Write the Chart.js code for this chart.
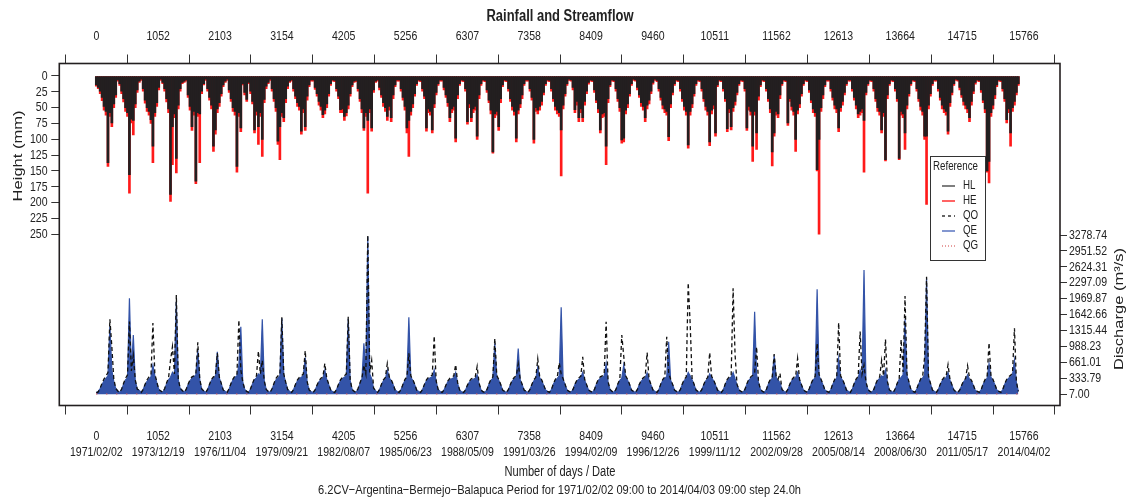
<!DOCTYPE html>
<html>
<head>
<meta charset="utf-8">
<script src="https://cdn.jsdelivr.net/npm/chart.js"></script>
<style>
html, body { margin: 0; padding: 0; background: #fff; }
canvas { display: block; }
</style>
</head>
<body>
<canvas id="chart" width="1127" height="502"></canvas>
<script>
// day of each hydrological year start (from 1971/02/02)
var yearStart = [0,365,731,1096,1461,1826,2192,2557,2922,3287,3653,4018,4383,4748,5114,5479,5844,6209,6575,6940,7305,7670,8036,8401,8766,9131,9497,9862,10227,10592,10958,11323,11688,12053,12419,12784,13149,13514,13880,14245,14610,14975,15341];
// sample offsets within a year (days)
var sampleOffset = [0,33,66,99,132,165,198,231,264,297,330];

// rainfall, mm (HL observed, HE estimated)
var rainHL = [
  [14,18,24,34,48,56,137,58,74,44,30],
  [6,12,24,36,50,58,156,68,70,44,22],
  [8,5,20,38,50,56,69,111,58,42,18],
  [5,10,20,36,52,187,80,60,130,46,20],
  [10,8,6,30,48,80,56,166,58,60,24],
  [12,5,20,34,46,111,85,52,42,28,14],
  [8,5,22,36,50,56,143,58,82,12,26],
  [37,10,24,40,85,56,80,58,100,37,16],
  [10,5,20,36,50,103,80,58,66,36,16],
  [8,6,20,32,42,48,87,52,80,32,14],
  [6,6,18,28,40,48,61,54,44,28,12],
  [6,7,20,32,53,52,64,58,46,28,14],
  [8,7,20,36,52,82,58,70,52,82,22],
  [8,6,18,30,42,50,64,48,66,30,14],
  [6,6,20,34,48,82,70,56,44,28,12],
  [6,7,20,32,82,52,56,85,44,26,12],
  [6,6,18,30,42,66,52,48,98,30,12],
  [6,7,20,72,44,66,52,48,95,30,12],
  [6,7,22,38,54,120,60,56,80,36,14],
  [6,7,20,36,48,56,98,54,44,30,12],
  [6,6,20,34,100,50,54,48,40,26,12],
  [6,7,20,36,48,54,58,85,46,28,12],
  [5,6,18,53,40,66,52,66,40,24,10],
  [6,7,22,38,52,85,60,58,111,36,14],
  [6,7,20,36,50,101,98,54,44,28,12],
  [5,6,18,30,42,48,66,46,38,24,10],
  [5,7,20,34,46,52,56,96,44,26,12],
  [6,7,20,36,48,56,109,56,44,28,12],
  [6,7,20,36,48,56,104,54,46,90,14],
  [6,7,20,36,83,52,80,50,40,26,12],
  [6,7,20,82,48,56,111,56,90,32,14],
  [6,7,20,36,52,120,90,56,60,30,12],
  [6,7,74,36,48,56,100,54,44,28,12],
  [6,7,22,38,52,58,148,100,50,30,14],
  [6,6,20,34,46,52,82,50,40,26,12],
  [6,6,20,34,46,60,56,52,70,26,12],
  [6,7,20,36,50,56,85,58,132,30,12],
  [6,7,20,36,130,56,60,90,46,28,12],
  [6,7,20,36,48,56,95,95,46,28,12],
  [6,6,20,34,46,52,56,87,42,26,12],
  [5,6,18,30,40,46,52,66,40,24,10],
  [6,7,22,38,52,150,135,58,46,30,14],
  [6,7,20,36,69,52,90,50,40,26,12]
];
var rainHE = [
  [16,20,28,39,54,62,143,64,80,50,34],
  [8,15,28,41,56,64,185,74,93,50,26],
  [10,7,24,43,56,62,75,137,64,48,22],
  [7,12,24,41,58,198,140,66,153,52,24],
  [12,10,8,34,54,86,62,170,64,137,28],
  [14,7,24,38,52,119,92,58,48,32,17],
  [10,7,26,40,56,62,152,64,88,14,30],
  [40,12,28,44,90,62,108,64,127,42,20],
  [12,7,24,40,56,108,132,64,72,42,20],
  [10,8,24,36,48,54,92,58,86,38,17],
  [8,8,21,32,46,54,66,60,50,32,15],
  [8,9,24,36,58,58,70,63,52,32,17],
  [10,9,24,40,58,86,64,185,58,87,26],
  [10,8,22,34,48,56,70,54,72,36,17],
  [8,8,24,38,54,90,127,62,50,32,15],
  [8,9,24,36,87,58,62,90,50,30,15],
  [8,8,22,34,48,72,58,54,104,36,15],
  [8,9,24,76,50,72,58,54,100,36,15],
  [8,9,26,42,60,122,66,62,86,42,17],
  [8,9,24,40,54,62,104,60,50,36,15],
  [8,8,24,38,106,56,60,54,46,30,15],
  [8,9,24,40,54,60,64,158,52,32,15],
  [7,8,22,58,46,72,58,72,46,28,13],
  [8,9,26,42,58,90,66,64,140,42,17],
  [8,9,24,40,56,106,104,60,50,32,15],
  [7,8,22,34,48,54,72,52,44,28,13],
  [7,9,24,38,52,58,62,102,50,30,15],
  [8,9,24,40,54,62,114,62,50,32,15],
  [8,9,24,40,54,62,110,60,52,95,17],
  [8,9,24,40,88,58,85,56,46,30,15],
  [8,9,24,86,54,62,135,62,116,38,17],
  [8,9,24,40,58,142,95,62,66,36,15],
  [8,9,78,40,54,62,119,60,50,32,15],
  [8,9,26,42,58,64,150,250,56,36,17],
  [8,8,24,38,52,58,88,56,46,30,15],
  [8,8,24,38,52,66,62,58,152,30,15],
  [8,9,24,40,56,62,90,64,134,36,15],
  [8,9,24,40,132,62,66,116,52,32,15],
  [8,9,24,40,54,62,100,203,52,32,15],
  [8,8,24,38,52,58,62,92,48,30,15],
  [7,8,22,34,46,52,58,72,46,28,13],
  [8,9,26,42,58,152,169,64,52,36,17],
  [8,9,24,40,74,58,111,56,46,30,15]
];

// discharge, m3/s (QO observed, QE estimated, QG)
var flowQO = [
  [30,50,130,230,320,380,450,1544,980,320,120],
  [70,40,110,230,330,400,1500,480,800,300,110],
  [80,40,100,210,300,360,400,1468,420,260,100],
  [70,40,120,240,340,700,980,420,2044,320,120],
  [80,40,100,210,300,360,380,420,1070,320,110],
  [70,40,100,210,310,360,380,850,360,230,90],
  [60,40,120,230,320,380,400,1530,500,260,100],
  [60,40,120,230,330,380,890,420,700,280,100],
  [60,40,120,230,330,380,400,1585,420,250,100],
  [60,40,100,210,300,350,380,420,898,260,90],
  [50,40,90,190,280,330,360,637,330,210,90],
  [50,40,100,210,300,350,380,420,1596,300,100],
  [60,40,120,240,340,600,420,3278,450,700,130],
  [70,40,100,210,300,350,635,360,300,210,90],
  [60,40,100,210,310,360,843,380,310,210,90],
  [60,40,100,210,300,350,370,400,1200,280,100],
  [60,40,90,190,280,330,350,380,610,240,90],
  [50,40,90,190,270,320,340,360,575,230,90],
  [50,40,100,220,310,360,1152,390,310,210,90],
  [60,40,100,210,300,350,380,630,320,210,90],
  [60,40,100,210,300,350,730,360,300,200,90],
  [60,40,100,220,310,360,650,420,320,210,90],
  [60,40,100,210,290,340,370,770,310,200,90],
  [60,40,100,220,310,360,380,420,1494,260,100],
  [60,40,100,220,310,1221,790,380,310,210,90],
  [60,40,100,210,290,340,370,860,310,200,90],
  [60,40,100,220,310,360,1186,440,310,210,90],
  [60,40,100,220,310,360,2298,1460,330,210,90],
  [60,40,100,210,300,350,860,370,300,200,90],
  [60,40,100,220,310,360,380,2181,830,210,90],
  [60,40,100,220,310,360,390,440,980,260,100],
  [60,40,100,220,310,360,830,380,310,433,100],
  [60,40,100,210,300,350,370,739,310,200,90],
  [60,40,120,230,320,370,1050,410,310,210,90],
  [60,40,100,220,310,360,1474,380,310,210,90],
  [60,40,120,230,320,370,1290,420,600,260,100],
  [60,40,100,220,310,360,700,380,1131,260,90],
  [60,40,120,230,330,1131,460,2024,420,260,100],
  [60,40,120,230,320,370,770,2420,380,230,90],
  [60,40,100,210,300,350,370,610,310,200,90],
  [50,40,90,190,280,330,588,340,290,190,80],
  [60,40,100,220,310,360,1062,380,310,210,90],
  [60,40,100,220,310,360,390,440,1357,260,60]
];
var flowQE = [
  [40,60,120,200,280,330,380,1400,500,260,120],
  [70,40,100,210,300,340,1976,480,1221,280,110],
  [80,40,100,200,270,320,360,600,380,240,100],
  [70,40,110,220,300,350,450,380,1907,300,120],
  [80,40,100,200,280,330,360,400,912,300,110],
  [70,40,100,200,290,340,360,877,340,220,90],
  [60,40,110,220,300,350,380,600,1392,260,100],
  [60,40,110,220,300,340,420,380,1544,280,100],
  [60,40,110,220,300,340,380,1565,400,240,100],
  [60,40,100,200,280,320,350,380,755,240,90],
  [50,40,90,180,260,300,330,500,300,200,90],
  [50,40,100,200,280,320,350,380,1550,280,100],
  [60,40,110,220,320,1050,420,3244,420,320,120],
  [70,40,100,200,280,320,500,340,280,200,90],
  [60,40,100,200,290,330,1585,350,290,200,90],
  [60,40,100,200,280,320,340,360,500,260,100],
  [60,40,90,180,260,300,320,340,450,220,90],
  [50,40,90,180,250,290,310,330,400,210,90],
  [50,40,100,210,290,330,1050,360,290,200,90],
  [60,40,100,200,280,320,350,945,300,200,90],
  [60,40,100,200,280,320,560,340,280,190,90],
  [60,40,100,210,290,330,380,1790,300,200,90],
  [60,40,100,200,270,310,340,450,290,190,90],
  [60,40,100,210,290,330,350,380,630,240,100],
  [60,40,100,210,290,330,600,350,290,200,90],
  [60,40,100,200,270,310,340,440,290,190,90],
  [60,40,100,210,290,330,360,1083,290,200,90],
  [60,40,100,210,290,330,450,380,300,200,90],
  [60,40,100,200,280,320,420,340,280,190,90],
  [60,40,100,210,290,330,350,450,320,200,90],
  [60,40,100,210,290,330,360,1700,400,240,100],
  [60,40,100,210,290,330,800,350,290,240,100],
  [60,40,100,200,280,320,340,450,290,190,90],
  [60,40,110,220,300,340,2161,380,290,200,90],
  [60,40,100,210,290,330,735,350,290,200,90],
  [60,40,110,220,300,340,500,380,2560,240,100],
  [60,40,100,210,290,330,380,350,500,240,90],
  [60,40,110,220,310,350,400,1544,380,240,100],
  [60,40,110,220,300,340,400,2385,350,220,90],
  [60,40,100,200,280,320,340,450,290,190,90],
  [50,40,90,180,260,300,400,310,270,180,80],
  [60,40,100,210,290,330,630,350,290,200,90],
  [60,40,100,210,290,330,360,400,700,240,60]
];
var flowQG = [6,5,6,5,6,6,5,6,5,6,5,6,6,5,6,5,6,5,6,6,5,6,5,6,5,6,6,5,6,5,6,5,6,6,5,6,5,6,5,6,6,5,6];

// axis ticks
var dayTicks = [0,1052,2103,3154,4205,5256,6307,7358,8409,9460,10511,11562,12613,13664,14715,15766];
var dateTicks = ['1971/02/02','1973/12/19','1976/11/04','1979/09/21','1982/08/07','1985/06/23','1988/05/09','1991/03/26','1994/02/09','1996/12/26','1999/11/12','2002/09/28','2005/08/14','2008/06/30','2011/05/17','2014/04/02'];
var rainTicks = [0,25,50,75,100,125,150,175,200,225,250];
var flowTicks = [7.00,333.79,661.01,988.23,1315.44,1642.66,1969.87,2297.09,2624.31,2951.52,3278.74];

var F = '"Liberation Sans", Arial, sans-serif';
var SX = 0.78;   // narrow text
var INK = '#231f20';

function series(rows) {
  var out = [];
  for (var k = 0; k < rows.length; k++) {
    for (var j = 0; j < rows[k].length; j++) {
      out.push({ x: yearStart[k] + sampleOffset[j], y: rows[k][j] });
    }
  }
  return out;
}

var qgPoints = flowQG.map(function (v, k) { return { x: yearStart[k], y: v }; });
qgPoints.push({ x: 15766, y: 6 });

function txt(ctx, s, x, y, align, sx) {
  ctx.save();
  ctx.translate(x, y);
  ctx.scale(sx, 1);
  ctx.textAlign = align;
  ctx.fillText(s, 0, 0);
  ctx.restore();
}
function fitText(ctx, s, x, y, w) {
  txt(ctx, s, x, y, 'center', w / ctx.measureText(s).width);
}
// vertical text: narrow across the line, natural length along it
function vText(ctx, s, x, y) {
  ctx.save();
  ctx.translate(x, y);
  ctx.rotate(-Math.PI / 2);
  ctx.scale(1, SX);
  ctx.textAlign = 'center';
  ctx.fillText(s, 0, 0);
  ctx.restore();
}

var decor = {
  id: 'decor',
  afterDraw: function (chart) {
    var ctx = chart.ctx, a = chart.chartArea, sc = chart.scales;
    ctx.save();
    ctx.strokeStyle = INK;
    ctx.lineWidth = 1.6;
    ctx.strokeRect(a.left, a.top, a.right - a.left, a.bottom - a.top);

    ctx.fillStyle = '#222';
    ctx.textBaseline = 'middle';

    // tick labels
    ctx.font = '13.5px ' + F;
    dayTicks.forEach(function (v, i) {
      var px = sc.x.getPixelForValue(v);
      txt(ctx, String(v), px, 36, 'center', SX);
      txt(ctx, String(v), px, 436, 'center', SX);
      txt(ctx, dateTicks[i], px, 452, 'center', SX);
    });
    rainTicks.forEach(function (v) {
      txt(ctx, String(v), 47.5, sc.yRain.getPixelForValue(v), 'right', SX);
    });
    flowTicks.forEach(function (v) {
      txt(ctx, v.toFixed(2), 1069, sc.yQ.getPixelForValue(v), 'left', SX);
    });

    // titles
    ctx.font = 'bold 16px ' + F;
    fitText(ctx, 'Rainfall and Streamflow', 560, 17, 147);
    ctx.font = '14px ' + F;
    fitText(ctx, 'Number of days / Date', 560, 472, 111);
    ctx.font = '13.5px ' + F;
    fitText(ctx, '6.2CV\u2212Argentina\u2212Bermejo\u2212Balapuca Period for 1971/02/02 09:00 to 2014/04/03 09:00 step 24.0h', 559.5, 490, 483);

    ctx.font = '16.5px ' + F;
    vText(ctx, 'Height (mm)', 18, 156);
    vText(ctx, 'Discharge (m\u00b3/s)', 1119, 309);

    // legend
    ctx.fillStyle = '#fff';
    ctx.fillRect(930.5, 156.5, 55, 104);
    ctx.strokeStyle = '#333';
    ctx.lineWidth = 1;
    ctx.strokeRect(930.5, 156.5, 55, 104);
    ctx.fillStyle = '#222';
    ctx.font = '12.5px ' + F;
    txt(ctx, 'Reference', 955.5, 167, 'center', SX);
    var items = [
      { t: 'HL', c: '#555', d: [] },
      { t: 'HE', c: '#ff3030', d: [] },
      { t: 'QO', c: '#333', d: [3, 3] },
      { t: 'QE', c: '#5a74c0', d: [] },
      { t: 'QG', c: '#e08080', d: [1, 2] }
    ];
    items.forEach(function (it, i) {
      var y = 186 + i * 15;
      ctx.strokeStyle = it.c;
      ctx.lineWidth = 1.5;
      ctx.setLineDash(it.d);
      ctx.beginPath();
      ctx.moveTo(942, y);
      ctx.lineTo(955, y);
      ctx.stroke();
      ctx.setLineDash([]);
      ctx.fillStyle = '#222';
      txt(ctx, it.t, 963, y, 'left', SX);
    });
    ctx.restore();
  }
};

var tickGrid = { drawOnChartArea: false, drawTicks: true, color: '#333', lineWidth: 1 };
var noLabels = { display: false };

new Chart(document.getElementById('chart'), {
  type: 'bar',
  data: {
    datasets: [
      { type: 'bar', label: 'HE', data: series(rainHE), backgroundColor: '#ff1a1a',
        barThickness: 2, grouped: false, xAxisID: 'x', yAxisID: 'yRain', order: 5 },
      { type: 'bar', label: 'HL', data: series(rainHL), backgroundColor: INK,
        barThickness: 2, grouped: false, xAxisID: 'x', yAxisID: 'yRain', order: 4 },
      { type: 'line', label: 'QE', data: series(flowQE), borderColor: '#3353a8',
        backgroundColor: '#3353a8', fill: 'origin', borderWidth: 1.2, pointRadius: 0,
        tension: 0, xAxisID: 'x', yAxisID: 'yQ', order: 3 },
      { type: 'line', label: 'QO', data: series(flowQO), borderColor: '#111',
        borderDash: [4, 3], borderWidth: 1.3, pointRadius: 0, fill: false,
        tension: 0, xAxisID: 'x', yAxisID: 'yQ', order: 2 },
      { type: 'line', label: 'QG', data: qgPoints, borderColor: '#e05a5a',
        borderDash: [1, 9], borderWidth: 1.5, pointRadius: 0, fill: false,
        xAxisID: 'x', yAxisID: 'yQ', order: 1 }
    ]
  },
  options: {
    responsive: false,
    animation: false,
    devicePixelRatio: 1,
    layout: { padding: 0 },
    plugins: { legend: { display: false }, title: { display: false }, tooltip: { enabled: false } },
    scales: {
      x: {
        type: 'linear', position: 'bottom', min: -629, max: 16379, offset: false,
        afterBuildTicks: function (s) { s.ticks = dayTicks.map(function (v) { return { value: v }; }); },
        afterFit: function (s) { s.height = 96.5; },
        grid: Object.assign({ tickLength: 9 }, tickGrid),
        border: { display: false },
        ticks: noLabels
      },
      xTop: {
        type: 'linear', position: 'top', min: -629, max: 16379, offset: false,
        afterBuildTicks: function (s) { s.ticks = dayTicks.map(function (v) { return { value: v }; }); },
        afterFit: function (s) { s.height = 63.5; },
        grid: Object.assign({ tickLength: 9 }, tickGrid),
        border: { display: false },
        ticks: noLabels
      },
      yRain: {
        type: 'linear', position: 'left', reverse: true, min: -19.74, max: 520.4,
        afterBuildTicks: function (s) { s.ticks = rainTicks.map(function (v) { return { value: v }; }); },
        afterFit: function (s) { s.width = 59.3; },
        grid: Object.assign({ tickLength: 8 }, tickGrid),
        border: { display: false },
        ticks: noLabels
      },
      yQ: {
        type: 'linear', position: 'right', min: -229.6, max: 6807.7,
        afterBuildTicks: function (s) { s.ticks = flowTicks.map(function (v) { return { value: v }; }); },
        afterFit: function (s) { s.width = 67; },
        grid: Object.assign({ tickLength: 7 }, tickGrid),
        border: { display: false },
        ticks: noLabels
      }
    }
  },
  plugins: [decor]
});
</script>
</body>
</html>
